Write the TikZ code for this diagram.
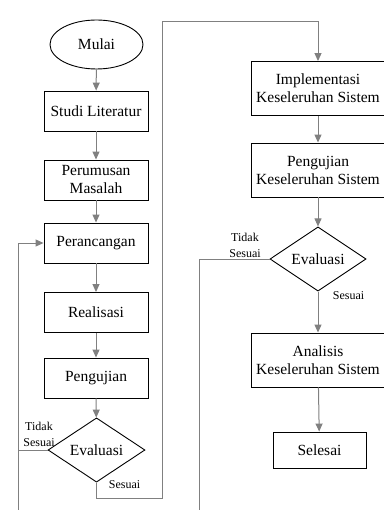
\documentclass[tikz,border=0pt]{standalone}
\usepackage{fontspec}
\setmainfont{Liberation Serif}
\usetikzlibrary{shapes.geometric,arrows.meta}
\begin{document}
\begin{tikzpicture}[x=1pt,y=-1pt,
  box/.style={draw=black,line width=0.9pt,fill=white,inner sep=1pt,align=center,
    font=\fontsize{15.5}{18}\selectfont},
  lbox/.style={box,minimum width=104pt,minimum height=40pt},
  rbox/.style={box,minimum width=134pt,minimum height=54pt},
  dec/.style={draw=black,line width=0.9pt,shape=diamond,inner sep=0pt,
    minimum width=97pt,minimum height=64pt,font=\fontsize{15.5}{18}\selectfont},
  term/.style={draw=black,line width=0.9pt,ellipse,minimum width=93pt,minimum height=49pt,
    font=\fontsize{15.5}{18}\selectfont},
  conn/.style={draw={rgb,255:red,128;green,128;blue,128},line width=1pt},
  arr/.style={conn,-{Triangle[length=8pt,width=7pt]}},
  lab/.style={align=center,inner sep=0pt,font=\fontsize{12}{16}\selectfont}]
\useasboundingbox (0,0) rectangle (383,510);
% left column
\node[term] (mulai) at (96.5,44.5) {Mulai};
\node[lbox] (studi) at (96,111) {Studi Literatur};
\node[lbox] (rumus) at (96,180) {Perumusan\\Masalah};
\node[lbox] (ranc) at (96,243) {Perancangan};
\node[lbox] (real) at (96,312.5) {Realisasi};
\node[lbox] (uji) at (96,378) {Pengujian};
\node[dec] (eval1) at (96.5,450) {Evaluasi};
% right column
\node[rbox] (impl) at (318,88.5) {Implementasi\\Keseleruhan Sistem};
\node[rbox] (uji2) at (318,170) {Pengujian\\Keseleruhan Sistem};
\node[dec,minimum width=96pt] (eval2) at (318,259) {Evaluasi};
\node[rbox] (anal) at (318,360) {Analisis\\Keseleruhan Sistem};
\node[box,minimum width=93pt,minimum height=36pt] (sel) at (319.5,450) {Selesai};
% coordinates
\coordinate (bl) at (18.5,510);
\coordinate (br) at (199,510);
\coordinate (c1) at (162,498);
\coordinate (c2) at (162,22);
% connectors
\draw[arr] (mulai) -- (studi);
\draw[arr] (studi) -- (rumus);
\draw[arr] (rumus) -- (ranc);
\draw[arr] (ranc) -- (real);
\draw[arr] (real) -- (uji);
\draw[arr] (uji) -- (eval1);
\draw[arr] (bl) |- (ranc.west);
\draw[conn] (eval1.west) -- (eval1.west -| bl);
\draw[arr] (eval1.south) |- (c1) -- (c2) -| (impl.north);
\draw[arr] (impl) -- (uji2);
\draw[arr] (uji2) -- (eval2);
\draw[arr] (eval2) -- (anal);
\draw[arr] (anal) -- (sel);
\draw[conn] (eval2.west) -| (br);
% labels
\node[lab] (t1) at (39,434.5) {Tidak\\Sesuai};
\node[lab] (s1) at (124.5,485) {Sesuai};
\node[lab] (t2) at (245,245) {Tidak\\Sesuai};
\node[lab] (s2) at (348.5,296) {Sesuai};
\end{tikzpicture}
\end{document}
